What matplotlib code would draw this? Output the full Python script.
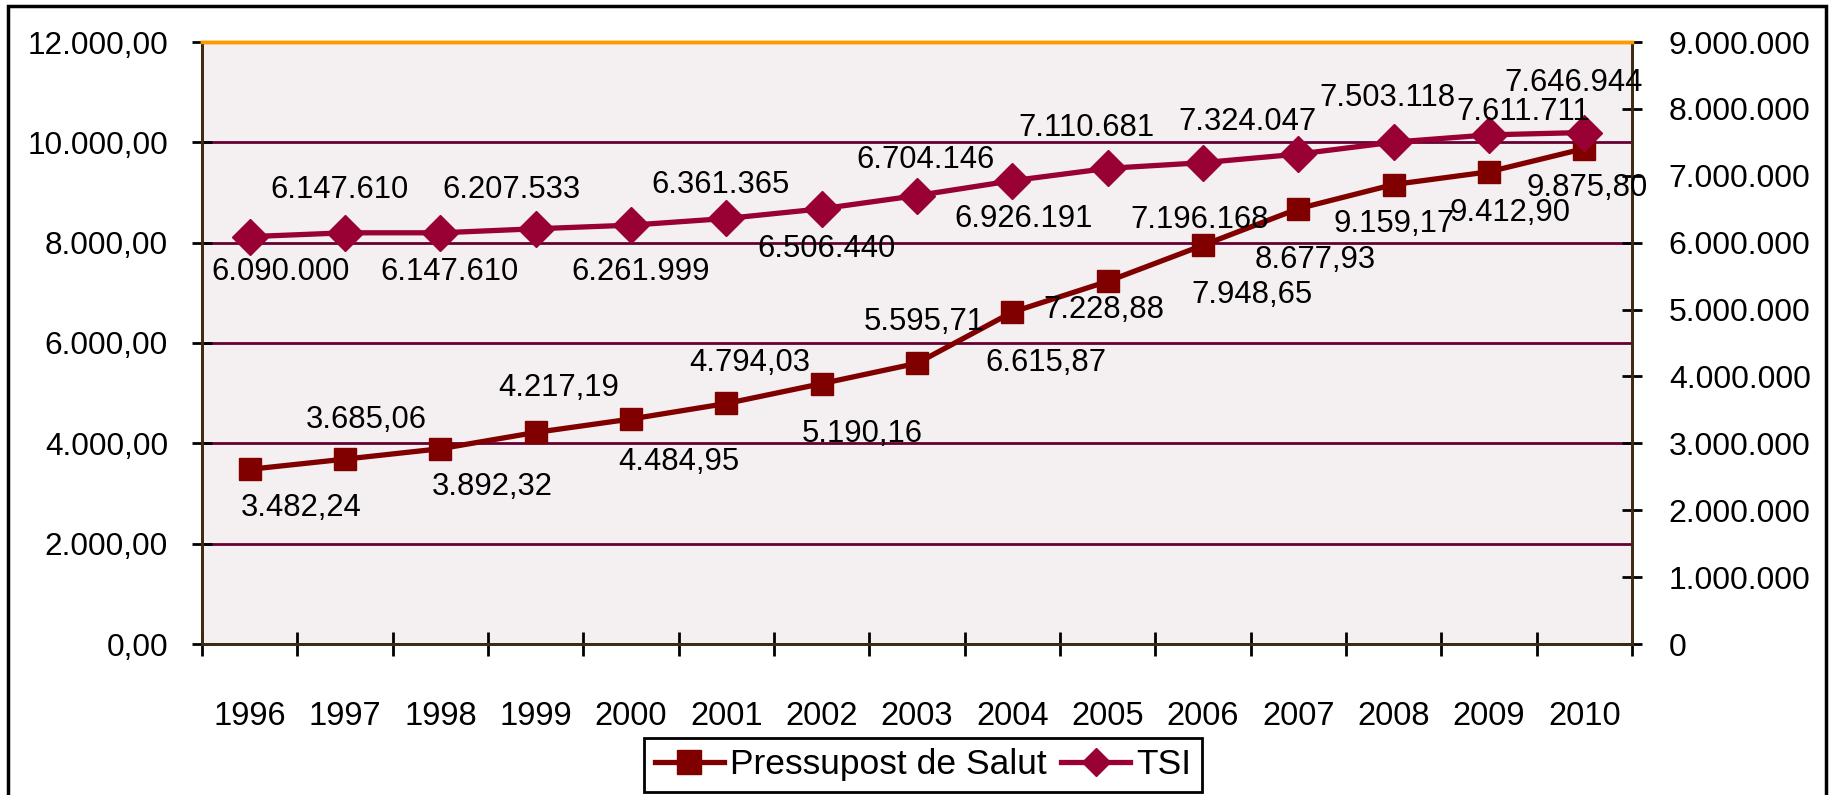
import matplotlib
matplotlib.use("Agg")
import matplotlib.pyplot as plt
from matplotlib.font_manager import FontProperties
from matplotlib.patches import Rectangle
from matplotlib.lines import Line2D
import numpy as np

# ---------------- data ----------------
years = ["1996", "1997", "1998", "1999", "2000", "2001", "2002", "2003",
         "2004", "2005", "2006", "2007", "2008", "2009", "2010"]
pressupost = [3482.24, 3685.06, 3892.32, 4217.19, 4484.95, 4794.03, 5190.16,
              5595.71, 6615.87, 7228.88, 7948.65, 8677.93, 9159.17, 9412.90, 9875.80]
tsi = [6090000, 6147610, 6147610, 6207533, 6261999, 6361365, 6506440, 6704146,
       6926191, 7110681, 7196168, 7324047, 7503118, 7611711, 7646944]
left_ticks = [0, 2000, 4000, 6000, 8000, 10000, 12000]
right_ticks = [0, 1000000, 2000000, 3000000, 4000000, 5000000, 6000000,
               7000000, 8000000, 9000000]
series_names = ["Pressupost de Salut", "TSI"]

# label offsets in pixels (dx right, dy down) - layout only
p_off = [(52, 39), (21, -39), (52, 38), (23, -44), (48, 43), (23, -40), (41, 50),
         (7, -41), (34, 51), (-4, 29), (49, 50), (17, 51), (0, 39), (21, 41), (3, 39)]
t_off = [(31, 35), (-5, -43), (9, 39), (-24, -39), (10, 47), (-6, -33), (5, 40),
         (9, -36), (11, 38), (-21, -40), (-3, 57), (-51, -32), (-6, -44), (34, -23),
         (-11, -50)]


def fmt_dec(v):
    s = f"{v:,.2f}"
    return s.replace(",", "X").replace(".", ",").replace("X", ".")


def fmt_int(v):
    return f"{v:,.0f}".replace(",", ".")


def AF(size):
    return FontProperties(family="Liberation Sans", size=size)


s_year, s_left, s_right, s_leg = 23.5, 22.7, 23, 25.5
LBL = AF(22.3)

C_P = "#800000"
C_T = "#990033"
C_GRID = "#660033"
C_SPINE = "#3d2b12"

fig = plt.figure(figsize=(18.29, 7.95), dpi=100)
ax = fig.add_axes([202 / 1829, 151 / 795, 1430 / 1829, 602 / 795])
ax.set_facecolor("#F4F0F2")
ax2 = ax.twinx()

x = np.arange(len(years))
ax.plot(x, pressupost, color=C_P, lw=3.8, marker="s", ms=16, mec=C_P, mfc=C_P,
        zorder=3, label=series_names[0])
ax2.plot(x, tsi, color=C_T, lw=3.8, marker="D", ms=18, mec=C_T, mfc=C_T,
         zorder=3, label=series_names[1])

ax.set_xlim(-0.5, len(years) - 0.5)
ax.set_ylim(left_ticks[0], left_ticks[-1])
ax2.set_ylim(right_ticks[0], right_ticks[-1])

ax.set_yticks(left_ticks)
ax.set_yticklabels([fmt_dec(v) for v in left_ticks], fontproperties=AF(s_left))
ax.yaxis.grid(True, color=C_GRID, lw=2)
ax.set_axisbelow(True)
ax2.set_yticks(right_ticks)
ax2.set_yticklabels([fmt_int(v) for v in right_ticks], fontproperties=AF(s_right))

ax.set_xticks(np.arange(-0.5, len(years), 1.0))
ax.set_xticklabels([])
ax.set_xticks(x, minor=True)
ax.set_xticklabels(years, minor=True, fontproperties=AF(s_year))
ax.tick_params(axis="x", which="minor", length=0, pad=41)
ax.tick_params(axis="x", which="major", direction="inout", length=17, width=2,
               color="black")
ax.tick_params(axis="y", direction="inout", length=15, width=2, color="black", pad=17)
ax2.tick_params(axis="y", direction="inout", length=15, width=2, color="black", pad=19)

for a in (ax, ax2):
    for s in ("left", "right", "bottom"):
        a.spines[s].set_color(C_SPINE)
        a.spines[s].set_linewidth(2)
    a.spines["top"].set_color("#FF9900")
    a.spines["top"].set_linewidth(2.5)

# data labels
for i, v in enumerate(pressupost):
    dx, dy = p_off[i]
    ax2.annotate(fmt_dec(v), xy=(x[i], v), xycoords=ax.transData,
                 xytext=(dx, -dy), textcoords="offset pixels",
                 ha="center", va="center", fontproperties=LBL,
                 color="black", zorder=5)
for i, v in enumerate(tsi):
    dx, dy = t_off[i]
    ax2.annotate(fmt_int(v), xy=(x[i], v), xycoords="data",
                 xytext=(dx, -dy), textcoords="offset pixels",
                 ha="center", va="center", fontproperties=LBL,
                 color="black", zorder=5)

# legend
handles = [Line2D([], [], color=C_P, lw=3.8, marker="s", ms=17),
           Line2D([], [], color=C_T, lw=3.8, marker="D", ms=14)]
leg = fig.legend(handles, series_names, loc="lower center",
                 bbox_to_anchor=(923 / 1829, 3 / 795), ncol=2, frameon=True,
                 fancybox=False, edgecolor="black", framealpha=1,
                 prop=AF(s_leg),
                 handlelength=1.95, handletextpad=0.17, columnspacing=0.42,
                 borderpad=0.3, borderaxespad=0)
leg.get_frame().set_linewidth(2)

# outer frame
fig.patches.append(Rectangle((8 / 1829, -0.05), 1818 / 1829, 1.05 - 6 / 795,
                             transform=fig.transFigure, fill=False,
                             edgecolor="black", lw=2.5))

fig.savefig("out.png", dpi=100)
